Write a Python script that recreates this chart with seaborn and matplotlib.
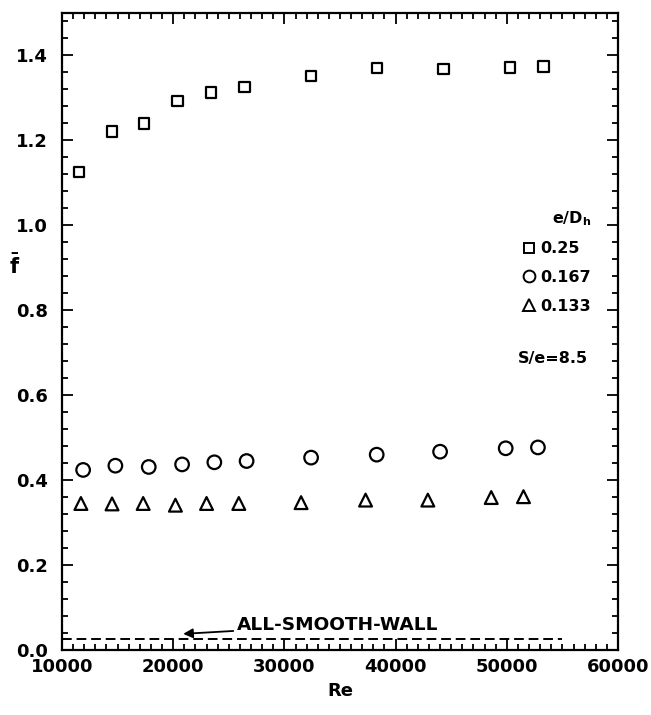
import matplotlib
matplotlib.use("Agg")
import matplotlib.pyplot as plt
import seaborn as sns
import pandas as pd
from matplotlib.ticker import MultipleLocator
from matplotlib.lines import Line2D

# Data
re_025 = [11500, 14500, 17400, 20400, 23400, 26400, 32400, 38300, 44300, 50300, 53300]
f_025 = [1.125, 1.221, 1.240, 1.292, 1.313, 1.325, 1.351, 1.370, 1.368, 1.372, 1.374]
re_0167 = [11900, 14800, 17800, 20800, 23700, 26600, 32400, 38300, 44000, 49900, 52800]
f_0167 = [0.424, 0.434, 0.431, 0.437, 0.442, 0.445, 0.453, 0.460, 0.467, 0.475, 0.477]
re_0133 = [11700, 14500, 17300, 20200, 23000, 25900, 31500, 37300, 42900, 48600, 51500]
f_0133 = [0.345, 0.344, 0.345, 0.341, 0.345, 0.345, 0.347, 0.353, 0.353, 0.359, 0.361]
series_labels = ["0.25", "0.167", "0.133"]
smooth_re = [10000, 55000]
smooth_f = [0.025, 0.025]

sns.set_style("ticks")
plt.rcParams["font.family"] = ["DejaVu Sans"]
plt.rcParams["font.weight"] = "bold"
plt.rcParams["mathtext.fontset"] = "dejavusans"
for k in ["text.color", "axes.labelcolor", "xtick.color", "ytick.color",
          "axes.edgecolor"]:
    plt.rcParams[k] = "black"

fig = plt.figure(figsize=(6.51, 7.15), dpi=100)
ax = fig.add_axes([62/651, 1-650/715, 556/651, 637/715])

markers = ["s", "o", "^"]
sizes = [55, 95, 85]
data = [(re_025, f_025), (re_0167, f_0167), (re_0133, f_0133)]
for (xs, ys), m, s in zip(data, markers, sizes):
    df = pd.DataFrame({"Re": xs, "f": ys})
    sns.scatterplot(data=df, x="Re", y="f", marker=m, s=s, facecolor="none",
                    edgecolor="black", linewidth=1.6, ax=ax, zorder=3)

sns.lineplot(x=smooth_re, y=smooth_f, ax=ax, color="black", linewidth=1.4,
             linestyle=(0, (5, 2.5)))

ax.annotate("ALL-SMOOTH-WALL", xy=(20900, 0.038), xytext=(25700, 0.059),
            fontsize=13.3, fontweight="bold", ha="left", va="center",
            arrowprops=dict(arrowstyle="-|>", color="black", lw=1.3,
                            mutation_scale=14, shrinkA=0, shrinkB=0))

ax.text(51000, 0.687, "S/e=8.5", fontsize=11.5, fontweight="bold",
        ha="left", va="center")

handles = [Line2D([], [], linestyle="none", marker=m, markersize=ms,
                  markerfacecolor="none", markeredgecolor="black",
                  markeredgewidth=1.4)
           for m, ms in zip(markers, [7, 8.5, 8])]
leg = ax.legend(handles, series_labels, title=r"e/D$_\mathbf{h}$",
                loc="upper left", bbox_to_anchor=(0.825, 0.692),
                frameon=False, fontsize=11.5, title_fontsize=11.5,
                handletextpad=0.25, handlelength=1.0, labelspacing=0.85,
                borderaxespad=0, borderpad=0)
leg.get_title().set_fontweight("bold")
leg._legend_box.align = "right"
for t in leg.get_texts():
    t.set_fontweight("bold")

ax.set_xlim(10000, 60000)
ax.set_ylim(0.0, 1.5)
ax.xaxis.set_major_locator(MultipleLocator(10000))
ax.xaxis.set_minor_locator(MultipleLocator(1000))
ax.yaxis.set_major_locator(MultipleLocator(0.2))
ax.yaxis.set_minor_locator(MultipleLocator(0.04))
ax.yaxis.set_major_formatter(matplotlib.ticker.FormatStrFormatter("%.1f"))

ax.tick_params(which="both", direction="in", top=True, right=True, width=1.3,
               color="black")
ax.tick_params(which="major", length=8, labelsize=13)
ax.tick_params(which="minor", length=4.5)
ax.tick_params(axis="y", pad=10)
ax.tick_params(axis="x", pad=6)
for lab in ax.get_xticklabels() + ax.get_yticklabels():
    lab.set_fontweight("bold")
for sp in ax.spines.values():
    sp.set_linewidth(1.6)
    sp.set_color("black")

ax.set_xlabel("Re", fontsize=13, fontweight="bold")
ax.xaxis.set_label_coords(0.5, -0.05)
ax.set_ylabel(r"$\bar{\mathbf{f}}$", fontsize=15, rotation=0, va="center")
ax.yaxis.set_label_coords(-0.085, 0.604)

fig.savefig("out.png", dpi=100)
